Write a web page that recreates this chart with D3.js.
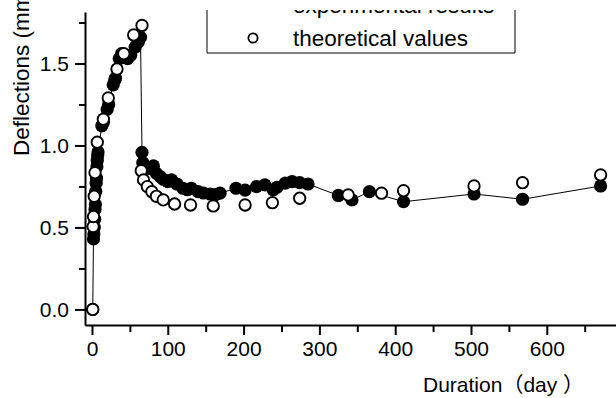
<!DOCTYPE html>
<html>
<head>
<meta charset="utf-8">
<script src="https://cdn.jsdelivr.net/npm/d3@7"></script>
<style>
  html, body { margin: 0; padding: 0; background: #fff; }
  svg { display: block; font-family: "Liberation Sans", Arial, "Noto Sans CJK SC", sans-serif; }
</style>
</head>
<body>
<div id="chart"></div>
<script>
// experimental results (filled) : day / deflection
const expDays = [1, 2, 2.5, 3, 3.5, 4, 4.5, 5, 5.5, 6, 6.5, 7, 7.5, 8,
  13, 15, 20, 22, 28, 30, 31, 36, 39, 44, 47, 51, 57, 61, 64,
  66, 67, 75, 81, 85, 90, 94, 100, 105, 112, 120, 126, 131, 140, 147, 156, 163, 169,
  190, 202, 217, 228, 239, 244, 255, 264, 274, 285, 325, 343, 366, 411, 504, 568, 671];
const expValues = [0.00, 0.43, 0.46, 0.50, 0.55, 0.61, 0.64, 0.72, 0.77, 0.80, 0.87, 0.91, 0.94, 0.96,
  1.12, 1.14, 1.22, 1.25, 1.37, 1.40, 1.41, 1.53, 1.56, 1.54, 1.53, 1.55, 1.60, 1.63, 1.66,
  0.958, 0.895, 0.86, 0.875, 0.83, 0.81, 0.794, 0.78, 0.79, 0.765, 0.739, 0.73, 0.739, 0.718, 0.71, 0.704, 0.70, 0.709,
  0.739, 0.728, 0.749, 0.76, 0.73, 0.745, 0.77, 0.78, 0.773, 0.765, 0.695, 0.668, 0.718, 0.657, 0.704, 0.672, 0.753];

// theoretical values (open)
const theoDays = [1, 1.5, 2, 3, 4, 7, 15, 21.5, 33, 42, 55, 66,
  65, 68, 73, 79, 85, 94, 109, 130, 160, 202, 238, 274, 338, 382, 411, 504, 568, 671];
const theoValues = [0.00, 0.505, 0.566, 0.69, 0.834, 1.02, 1.16, 1.29, 1.466, 1.56, 1.674, 1.732,
  0.846, 0.79, 0.749, 0.718, 0.69, 0.668, 0.643, 0.637, 0.631, 0.637, 0.651, 0.678, 0.698, 0.709, 0.724, 0.753, 0.773, 0.82];

const xTicks = [0, 100, 200, 300, 400, 500, 600];
const xMinor = [50, 150, 250, 350, 450, 550, 650];
const yTicks = [0.0, 0.5, 1.0, 1.5];
const yMinor = [0.25, 0.75, 1.25, 1.75];
const seriesNames = ["experimental results", "theoretical values"];

const W = 616, H = 398;
const svg = d3.select("#chart").append("svg").attr("width", W).attr("height", H);

const x = d3.scaleLinear().domain([-9.2, 691.3]).range([85, 616]);
const y = d3.scaleLinear().domain([-0.095, 1.814]).range([325, 12]);

const fmtY = d3.format(".1f");

// axes
function styleAxis(g) {
  g.select(".domain").attr("stroke", "#000").attr("stroke-width", 2);
  g.selectAll(".tick line").attr("stroke", "#000").attr("stroke-width", 2);
  g.selectAll(".tick text").attr("fill", "#000").attr("font-size", 21)
    .attr("font-family", "'Liberation Sans', Arial, sans-serif");
}

svg.append("g").attr("transform", "translate(0,325)")
  .call(d3.axisBottom(x).tickValues(xMinor).tickSize(7).tickFormat(""))
  .call(styleAxis).call(g => g.select(".domain").remove());
svg.append("g").attr("transform", "translate(0,325)")
  .call(d3.axisBottom(x).tickValues(xTicks).tickSize(10).tickPadding(6).tickSizeOuter(0))
  .call(styleAxis);

svg.append("g").attr("transform", "translate(85,0)")
  .call(d3.axisLeft(y).tickValues(yMinor).tickSize(6).tickFormat(""))
  .call(styleAxis).call(g => g.select(".domain").remove());
svg.append("g").attr("transform", "translate(85,0)")
  .call(d3.axisLeft(y).tickValues(yTicks).tickSize(10).tickPadding(6).tickSizeOuter(0).tickFormat(fmtY))
  .call(styleAxis);

// axis titles (the y title runs past the top edge, as in the source figure)
svg.append("text")
  .attr("transform", "translate(29,156) rotate(-90)")
  .attr("font-size", 22.5).attr("fill", "#000")
  .text("Deflections (mm)");
svg.append("text")
  .attr("x", 423).attr("y", 392)
  .attr("font-size", 21).attr("fill", "#000")
  .text("Duration（day ）");

// experimental line + points
const expData = expDays.map((d, i) => ({ d, v: expValues[i] }));
const theoData = theoDays.map((d, i) => ({ d, v: theoValues[i] }));

svg.append("path").datum(expData)
  .attr("fill", "none").attr("stroke", "#000").attr("stroke-width", 1)
  .attr("d", d3.line().x(p => x(p.d)).y(p => y(p.v)));

svg.append("g").selectAll("circle").data(expData).join("circle")
  .attr("cx", p => x(p.d)).attr("cy", p => y(p.v)).attr("r", 6.6)
  .attr("fill", "#000");

svg.append("g").selectAll("circle").data(theoData).join("circle")
  .attr("cx", p => x(p.d)).attr("cy", p => y(p.v)).attr("r", 5.7)
  .attr("fill", "#fff").attr("stroke", "#000").attr("stroke-width", 1.9);

// legend (top of the box is cut off in the source figure)
const defs = svg.append("defs");
defs.append("clipPath").attr("id", "legclip")
  .append("rect").attr("x", 0).attr("y", 10).attr("width", W).attr("height", H);
const leg = svg.append("g").attr("clip-path", "url(#legclip)");
leg.append("path")
  .attr("d", "M207,-40V53H515V-40")
  .attr("fill", "none").attr("stroke", "#000").attr("stroke-width", 1);
seriesNames.forEach((name, i) => {
  const cy = 38 - (1 - i) * 33.5;
  leg.append("circle").attr("cx", 253).attr("cy", cy).attr("r", 4.6)
    .attr("fill", i === 0 ? "#000" : "#fff").attr("stroke", "#000").attr("stroke-width", 1.8);
  leg.append("text").attr("x", 293).attr("y", cy + 8)
    .attr("font-size", 22.5).attr("fill", "#000").text(name);
});
</script>
</body>
</html>
